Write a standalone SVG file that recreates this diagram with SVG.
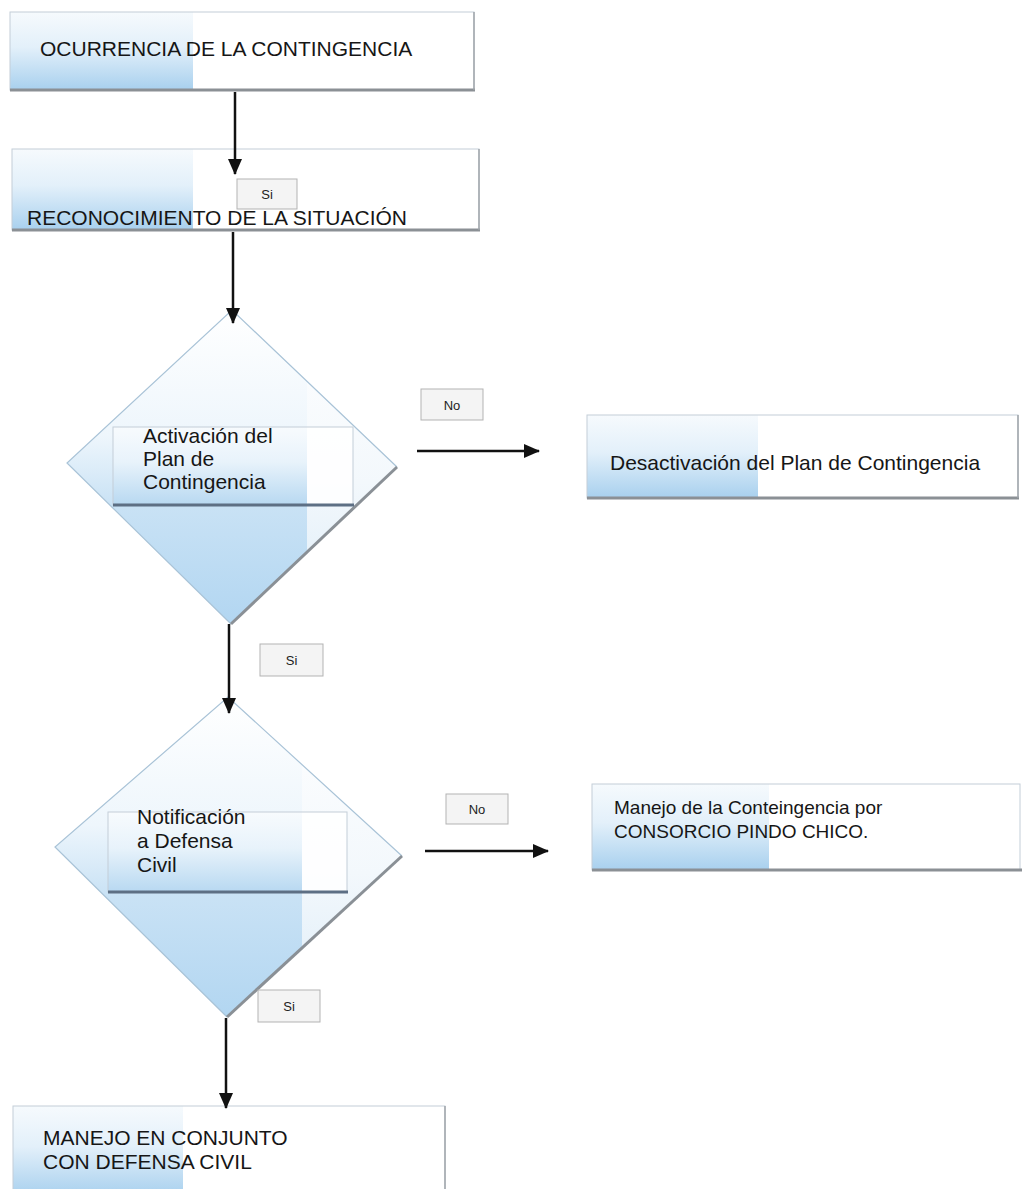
<svg xmlns="http://www.w3.org/2000/svg" width="1022" height="1189" viewBox="0 0 1022 1189">
<style>
  .txt { font-family: "Liberation Sans", Arial, sans-serif; font-size: 21px; fill: #161616; }
  .txt19 { font-family: "Liberation Sans", Arial, sans-serif; font-size: 19px; fill: #161616; }
  .lbl { font-family: "Liberation Sans", Arial, sans-serif; font-size: 13px; fill: #222; text-anchor: middle; }
  .lblbox { fill: #f4f4f4; stroke: #b3b3b3; stroke-width: 1; }
  .bg { fill: #ffffff; }
  .grad { fill: url(#gb); }
  .outline { fill: none; stroke: #c3ced8; stroke-width: 1; }
  .shadow { stroke: #8b9095; stroke-width: 3; fill: none; }
  .redge { stroke: #9fa5aa; stroke-width: 1.5; fill: none; }
  .ishadow { stroke: #5d6f84; stroke-width: 3; fill: none; }
  .dout { fill: none; stroke: #a9c3d7; stroke-width: 1.2; }
  .dshadow { fill: none; stroke: #8a9096; stroke-width: 3; }
  .conn { stroke: #111; stroke-width: 2.5; fill: none; marker-end: url(#ah); }
</style>
<defs>
  <linearGradient id="gb" x1="0" y1="0" x2="0" y2="1">
    <stop offset="0" stop-color="#f6fafd"/>
    <stop offset="0.45" stop-color="#e3f0fa"/>
    <stop offset="1" stop-color="#a8d0ee"/>
  </linearGradient>
  <linearGradient id="gd" x1="0" y1="0" x2="0" y2="1">
    <stop offset="0" stop-color="#ffffff"/>
    <stop offset="0.4" stop-color="#eef6fc"/>
    <stop offset="0.62" stop-color="#c9e2f5"/>
    <stop offset="1" stop-color="#b2d6f1"/>
  </linearGradient>
  <linearGradient id="gdr" x1="0" y1="0" x2="0" y2="1">
    <stop offset="0" stop-color="#ffffff"/>
    <stop offset="0.55" stop-color="#f3f8fc"/>
    <stop offset="1" stop-color="#dcecf8"/>
  </linearGradient>
  <clipPath id="cd1"><polygon points="232,310 397,467 231,624 67,463"/></clipPath>
  <clipPath id="cd2"><polygon points="228,697 402,856 227,1017 55,847"/></clipPath>
  <marker id="ah" viewBox="0 0 16 14" refX="15" refY="7" markerWidth="16" markerHeight="14" markerUnits="userSpaceOnUse" orient="auto">
    <path d="M0,0 L16,7 L0,14 z" fill="#111"/>
  </marker>
</defs>
<rect width="1022" height="1189" fill="#ffffff"/>

<g id="n1">
  <rect class="bg" x="10" y="12" width="464" height="78"/>
  <rect class="grad" x="10" y="12" width="183" height="78"/>
  <rect class="outline" x="10" y="12" width="464" height="78"/>
  <line class="shadow" x1="10" y1="90" x2="475" y2="90"/>
  <line class="redge" x1="474" y1="12" x2="474" y2="90"/>
  <text class="txt" x="40" y="56">OCURRENCIA DE LA CONTINGENCIA</text>
</g>

<g id="n2">
  <rect class="bg" x="12" y="149" width="467" height="81"/>
  <rect class="grad" x="12" y="149" width="181" height="81"/>
  <rect class="outline" x="12" y="149" width="467" height="81"/>
  <line class="shadow" x1="12" y1="230" x2="480" y2="230"/>
  <line class="redge" x1="479" y1="149" x2="479" y2="230"/>
  <text class="txt" x="27" y="225">RECONOCIMIENTO DE LA SITUACIÓN</text>
</g>

<g id="n3">
  <polygon class="bg" points="232,310 397,467 231,624 67,463"/>
  <g clip-path="url(#cd1)">
    <rect x="67" y="310" width="240" height="314" fill="url(#gd)"/>
    <rect x="307" y="310" width="90" height="314" fill="url(#gdr)"/>
  </g>
  <polyline class="dout" points="231,624 67,463 232,310 397,467"/>
  <line class="dshadow" x1="397" y1="467" x2="231" y2="624"/>
  <rect class="bg" x="113" y="427" width="240" height="78" fill-opacity="0.85"/>
  <rect x="113" y="427" width="194" height="78" fill="url(#gb)" fill-opacity="0.8"/>
  <rect class="outline" x="113" y="427" width="240" height="78"/>
  <line class="ishadow" x1="113" y1="505" x2="354" y2="505"/>
  <text class="txt" x="143" y="443">Activación del</text>
  <text class="txt" x="143" y="466">Plan de</text>
  <text class="txt" x="143" y="489">Contingencia</text>
</g>

<g id="n4">
  <rect class="bg" x="587" y="415" width="431" height="83"/>
  <rect class="grad" x="587" y="415" width="171" height="83"/>
  <rect class="outline" x="587" y="415" width="431" height="83"/>
  <line class="shadow" x1="587" y1="498" x2="1019" y2="498"/>
  <line class="redge" x1="1018" y1="415" x2="1018" y2="498"/>
  <text class="txt" x="610" y="470">Desactivación del Plan de Contingencia</text>
</g>

<g id="n5">
  <polygon class="bg" points="228,697 402,856 227,1017 55,847"/>
  <g clip-path="url(#cd2)">
    <rect x="55" y="697" width="247" height="320" fill="url(#gd)"/>
    <rect x="302" y="697" width="100" height="320" fill="url(#gdr)"/>
  </g>
  <polyline class="dout" points="227,1017 55,847 228,697 402,856"/>
  <line class="dshadow" x1="402" y1="856" x2="227" y2="1017"/>
  <rect class="bg" x="108" y="812" width="239" height="80" fill-opacity="0.85"/>
  <rect x="108" y="812" width="194" height="80" fill="url(#gb)" fill-opacity="0.8"/>
  <rect class="outline" x="108" y="812" width="239" height="80"/>
  <line class="ishadow" x1="108" y1="892" x2="348" y2="892"/>
  <text class="txt" x="137" y="824">Notificación</text>
  <text class="txt" x="137" y="848">a Defensa</text>
  <text class="txt" x="137" y="872">Civil</text>
</g>

<g id="n6">
  <rect class="bg" x="592" y="784" width="428" height="86"/>
  <rect class="grad" x="592" y="784" width="177" height="86"/>
  <rect class="outline" x="592" y="784" width="428" height="86"/>
  <line class="shadow" x1="592" y1="870" x2="1022" y2="870"/>
  <text class="txt19" x="614" y="814">Manejo de la Conteingencia por</text>
  <text class="txt19" x="614" y="838">CONSORCIO PINDO CHICO.</text>
</g>

<g id="n7">
  <rect class="bg" x="13" y="1106" width="432" height="90"/>
  <rect class="grad" x="13" y="1106" width="170" height="90"/>
  <rect class="outline" x="13" y="1106" width="432" height="90"/>
  <line class="redge" x1="445" y1="1106" x2="445" y2="1189"/>
  <text class="txt" x="43" y="1145">MANEJO EN CONJUNTO</text>
  <text class="txt" x="43" y="1169">CON DEFENSA CIVIL</text>
</g>

<g id="connectors">
  <line class="conn" x1="235" y1="92" x2="235" y2="174"/>
  <line class="conn" x1="233" y1="232" x2="233" y2="323"/>
  <line class="conn" x1="229" y1="624" x2="229" y2="713"/>
  <line class="conn" x1="226" y1="1018" x2="226" y2="1108"/>
  <line class="conn" x1="417" y1="451" x2="539" y2="451"/>
  <line class="conn" x1="425" y1="851" x2="548" y2="851"/>
</g>

<g id="labels">
  <g id="l1"><rect class="lblbox" x="237" y="179" width="60" height="30"/><text class="lbl" x="267" y="199">Si</text></g>
  <g id="l2"><rect class="lblbox" x="421" y="389" width="62" height="31"/><text class="lbl" x="452" y="410">No</text></g>
  <g id="l3"><rect class="lblbox" x="260" y="644" width="63" height="32"/><text class="lbl" x="291.5" y="665">Si</text></g>
  <g id="l4"><rect class="lblbox" x="446" y="794" width="62" height="30"/><text class="lbl" x="477" y="814">No</text></g>
  <g id="l5"><rect class="lblbox" x="258" y="990" width="62" height="32"/><text class="lbl" x="289" y="1011">Si</text></g>
</g>
</svg>
